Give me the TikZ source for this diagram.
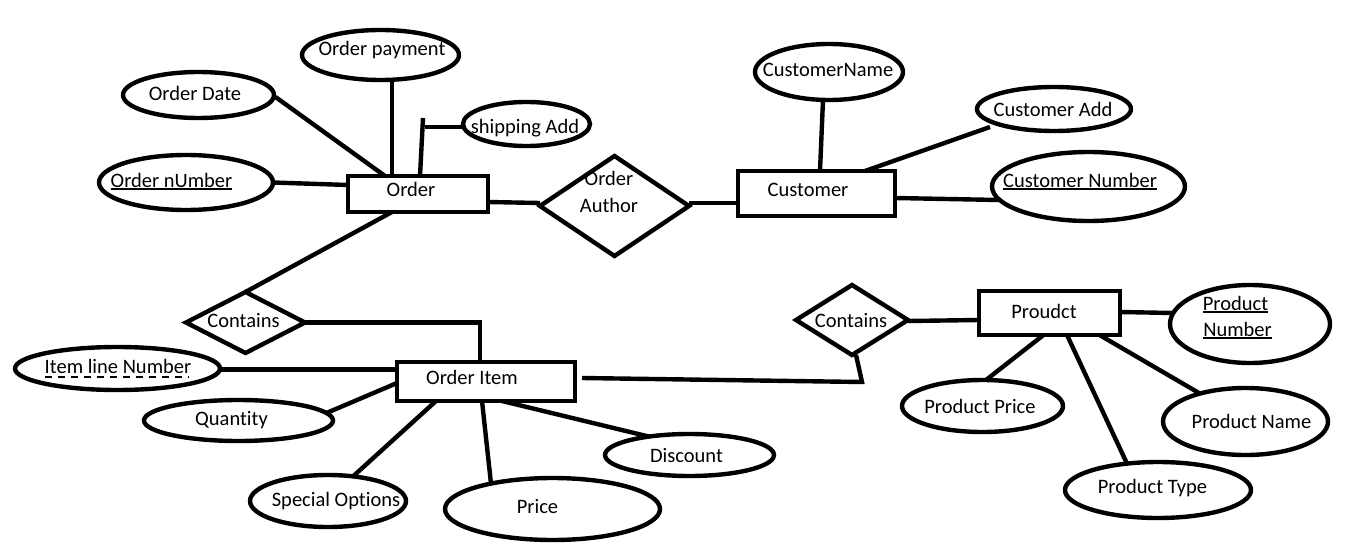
\documentclass[tikz,border=0pt]{standalone}
\usepackage{fontspec}
\setmainfont{Carlito}[Ligatures=NoCommon]
\usetikzlibrary{shapes.geometric,calc}
\begin{document}
\begin{tikzpicture}[x=1pt,y=-1pt,
  every node/.style={inner sep=0pt, outer sep=0pt},
  ink/.style={line width=4.4pt, black},
  attr/.style={ink, draw, ellipse},
  entity/.style={ink, draw, rectangle},
  rel/.style={ink, draw, diamond},
  lbl/.style={anchor=base, font=\fontsize{20.5}{24}\selectfont},
  link/.style={ink},
  keyline/.style={line width=1.6pt},
  partkey/.style={line width=1.4pt, dash pattern=on 7pt off 6pt}
]
\fill[white] (0,0) rectangle (1360,543);
\useasboundingbox (0,0) rectangle (1360,543);

% ---------- Order entity and its attributes ----------
\node[entity, minimum width=140pt, minimum height=36pt] (order) at (418,194) {};
\node[lbl] (orderT) at (411,196) {Order};

\node[attr, minimum width=157pt, minimum height=50pt] (opay) at (380.5,55) {};
\node[lbl] (opayT) at (382,56) {Order payment};

\node[attr, minimum width=151pt, minimum height=46pt] (odate) at (198.5,95) {};
\node[lbl] (odateT) at (195,100) {Order Date};

\node[attr, minimum width=127pt, minimum height=44pt] (ship) at (526.5,124) {};
\node[lbl] (shipT) at (525,133) {shipping Add};

\node[attr, minimum width=174pt, minimum height=55pt] (onum) at (186,182.5) {};
\node[lbl] (onumT) at (171.5,187) {Order nUmber};

% ---------- Order Author relationship ----------
\node[rel, minimum width=149pt, minimum height=100pt] (oauth) at (614.5,206) {};
\node[lbl] (oauthA) at (609,185) {Order};
\node[lbl] (oauthB) at (609,212) {Author};

% ---------- Customer entity and its attributes ----------
\node[entity, minimum width=157pt, minimum height=45pt] (customer) at (816.5,193.5) {};
\node[lbl] (customerT) at (808,196) {Customer};

\node[attr, minimum width=148pt, minimum height=56pt] (cname) at (829,72) {};
\node[lbl] (cnameT) at (828,77) {CustomerName};

\node[attr, minimum width=154pt, minimum height=44pt] (cadd) at (1054,109) {};
\node[lbl] (caddT) at (1053,116) {Customer Add};

\node[attr, minimum width=193pt, minimum height=69pt] (cnum) at (1088.5,186.5) {};
\node[lbl] (cnumT) at (1080,187) {Customer Number};

% ---------- Contains (Order / Order Item) ----------
\node[rel, minimum width=119pt, minimum height=61pt] (cont1) at (245.5,322.5) {};
\node[lbl] (cont1T) at (243.5,327) {Contains};

% ---------- Order Item entity and its attributes ----------
\node[entity, minimum width=178pt, minimum height=39pt] (oitem) at (486,381.5) {};
\node[lbl] (oitemT) at (472,384) {Order Item};

\node[attr, minimum width=205pt, minimum height=43pt] (iln) at (117.5,368.5) {};
\node[lbl] (ilnT) at (118,373) {Item line Number};

\node[attr, minimum width=189pt, minimum height=41pt] (qty) at (238.5,420.5) {};
\node[lbl] (qtyT) at (231.5,425) {Quantity};

\node[attr, minimum width=156pt, minimum height=52pt] (spec) at (328,501) {};
\node[lbl] (specT) at (336,506) {Special Options};

\node[attr, minimum width=215pt, minimum height=62pt] (price) at (552.5,509) {};
\node[lbl] (priceT) at (537.5,513) {Price};

\node[attr, minimum width=169pt, minimum height=42pt] (disc) at (689.5,455) {};
\node[lbl] (discT) at (686.5,462) {Discount};

% ---------- Contains (Order Item / Product) ----------
\node[rel, minimum width=112pt, minimum height=70pt] (cont2) at (852,320) {};
\node[lbl] (cont2T) at (851,327) {Contains};

% ---------- Product entity and its attributes ----------
\node[entity, minimum width=141pt, minimum height=44pt] (prod) at (1049.5,313) {};
\node[lbl] (prodT) at (1044,318) {Proudct};

\node[attr, minimum width=160pt, minimum height=78pt] (pnum) at (1250,324) {};
\node[lbl] (pnumA) at (1235.5,310) {Product};
\node[lbl] (pnumB) at (1237.5,336) {Number};

\node[attr, minimum width=161pt, minimum height=52pt] (pprice) at (982.5,406) {};
\node[lbl] (ppriceT) at (980,413) {Product Price};

\node[attr, minimum width=165pt, minimum height=67pt] (pname) at (1245.5,421.5) {};
\node[lbl] (pnameT) at (1251.5,428) {Product Name};

\node[attr, minimum width=186pt, minimum height=56pt] (ptype) at (1158,490) {};
\node[lbl] (ptypeT) at (1152.5,493) {Product Type};

% ---------- key underlines ----------
\draw[keyline] ($(onumT.base west)+(0,2)$) -- ($(onumT.base east)+(0,2)$);
\draw[keyline] ($(cnumT.base west)+(0,2)$) -- ($(cnumT.base east)+(0,2)$);
\draw[keyline] ($(pnumA.base west)+(0,2)$) -- ($(pnumA.base east)+(0,2)$);
\draw[keyline] ($(pnumB.base west)+(0,2)$) -- ($(pnumB.base east)+(0,2)$);
\draw[partkey] ($(ilnT.base west)+(0,4)$) -- ($(ilnT.base east)+(-3,4)$);

% ---------- connectors ----------
\draw[link] ($(odate)+(77,2)$) -- ($(order)+(-33,-18)$);
\draw[link] ($(opay)+(11.5,25)$) -- ($(order)+(-26,-18)$);
\draw[link] ($(order)+(2,-18)$) -- ++(3,-58);
\draw[link] ($(ship)+(-62,3)$) -- ++(-40,0);
\draw[link] (onum.east) -- ($(order.west)+(0,-9)$);
\draw[link] ($(order.east)+(0,8)$) -- ($(oauth.west)+(0,-3)$);
\draw[link] ($(oauth.east)+(0,-3)$) -- ($(customer.west)+(0,9.5)$);

\draw[link] ($(cname)+(-6,28)$) -- ($(customer.north)+(3.5,0)$);
\draw[link] ($(cadd)+(-64,18)$) -- ($(customer.north)+(48.5,0)$);
\draw[link] ($(customer.east)+(0,4.5)$) -- ($(cnum)+(-89,13.5)$);

\draw[link] ($(order.south)+(-26,0)$) -- (cont1.north);
\draw[link] (cont1.east) -| ($(oitem.north)+(-6,0)$);

\draw[link] ($(iln.east)+(0,1)$) -- ($(oitem.west)+(0,-12)$);
\draw[link] ($(qty)+(88,-7.5)$) -- ($(oitem.west)+(0,1.5)$);
\draw[link] ($(spec)+(25,-24.6)$) -- ($(oitem.south)+(-50,0)$);
\draw[link] ($(price)+(-61.5,-25.4)$) -- ($(oitem.south)+(-4,0)$);
\draw[link] ($(disc)+(-40.5,-18.4)$) -- ($(oitem.south)+(16,0)$);
\draw[link] ($(oitem.east)+(7,-3.5)$) -- ($(cont2.south)+(10,27)$) -- ($(cont2.south)+(4,0)$);

\draw[link] ($(cont2.east)+(0,1)$) -- ($(prod.west)+(0,7)$);
\draw[link] ($(prod.east)+(0,-1)$) -- ($(pnum)+(-77,-11)$);
\draw[link] ($(pprice)+(3.5,-26)$) -- ($(prod.south)+(-6,0)$);
\draw[link] ($(ptype)+(-31,-26.4)$) -- ($(prod.south)+(17.5,0)$);
\draw[link] ($(pname)+(-45.5,-27.9)$) -- ($(prod.south)+(50,0)$);
\end{tikzpicture}
\end{document}
